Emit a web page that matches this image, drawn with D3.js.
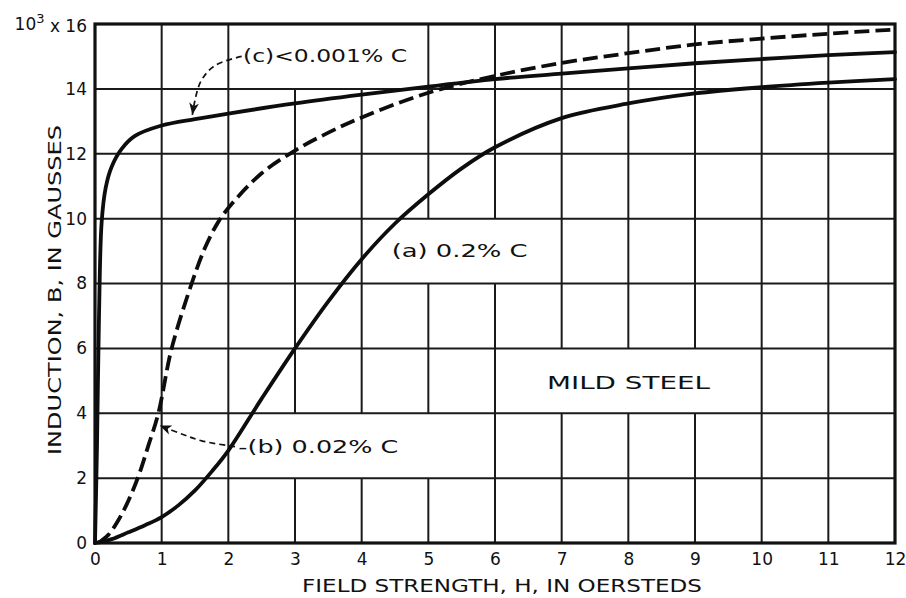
<!DOCTYPE html>
<html>
<head>
<meta charset="utf-8">
<script src="https://cdn.jsdelivr.net/npm/d3@7"></script>
<style>
  html, body { margin: 0; padding: 0; background: #fff; }
  svg { display: block; }
  text { font-family: "DejaVu Sans", "Open Sans", sans-serif; fill: #111; }
</style>
</head>
<body>
<svg id="chart" width="906" height="598"></svg>
<script>
// Magnetization curves of mild steel: induction B (kilogauss) against field strength H (oersteds)
const xTicks = [0, 1, 2, 3, 4, 5, 6, 7, 8, 9, 10, 11, 12];
const yTicks = [0, 2, 4, 6, 8, 10, 12, 14];
const yTopLabel = "16";

// (a) 0.2% C
const curveA = [
  [0, 0], [0.25, 0.12], [0.5, 0.33], [0.75, 0.55], [1, 0.8], [1.25, 1.16],
  [1.5, 1.62], [1.75, 2.2], [2, 2.85], [2.5, 4.45], [3, 6],
  [3.5, 7.45], [4, 8.75], [4.5, 9.85], [5, 10.75], [5.5, 11.55], [6, 12.2],
  [7, 13.1], [8, 13.55], [9, 13.86], [10, 14.05], [11, 14.19], [12, 14.3]
];
// (b) 0.02% C
const curveB = [
  [0.05, 0], [0.2, 0.25], [0.35, 0.7], [0.5, 1.3], [0.65, 2.05], [0.8, 3], [0.95, 4],
  [1.15, 6], [1.45, 8], [1.65, 9.1], [1.85, 9.9], [2.05, 10.45], [2.5, 11.4],
  [3, 12.1], [3.5, 12.65], [4, 13.12], [5, 13.88], [6, 14.4], [7, 14.8], [8, 15.1],
  [9, 15.37], [10, 15.55], [11, 15.7], [12, 15.83]
];
// (c) <0.001% C
const curveC = [
  [0, 0], [0.03, 3], [0.06, 7], [0.1, 9.9], [0.16, 10.95], [0.25, 11.6],
  [0.4, 12.15], [0.6, 12.55], [1, 12.87], [1.5, 13.07], [2, 13.24], [3, 13.55],
  [4, 13.82], [5, 14.07], [6, 14.3], [7, 14.47], [8, 14.63], [9, 14.79],
  [10, 14.92], [11, 15.04], [12, 15.13]
];

// Label panels (data units) where vertical rulings are left out
const panels = [
  { text: "(c)<0.001% C", x0: 2, x1: 5, y0: 14, y1: 16, tx: 2.22, ty: 15.02 },
  { text: "(a) 0.2% C",   x0: 4, x1: 7, y0: 8,  y1: 10, tx: 4.45, ty: 9.03 },
  { text: "MILD STEEL",   x0: 6, x1: 10, y0: 4, y1: 6,  tx: 6.78, ty: 4.96 },
  { text: "-(b) 0.02% C", x0: 2, x1: 6, y0: 2,  y1: 4,  tx: 2.15, ty: 2.97 }
];
const labelWidths = [164, 136, 163, 160];

// Leader lines from labels to curves (data units), last point is the arrow tip
const leaderC = [[2.2, 15.0], [1.8, 14.72], [1.58, 14.2], [1.46, 13.2]];
const leaderB = [[2.1, 2.97], [1.6, 3.15], [1.3, 3.36], [0.97, 3.62]];

const svg = d3.select("#chart");
const margin = { left: 95, top: 24, right: 11, bottom: 55 };
const W = 906 - margin.left - margin.right;
const H = 598 - margin.top - margin.bottom;

const x = d3.scaleLinear().domain([0, 12]).range([0, W]);
const y = d3.scaleLinear().domain([0, 16]).range([H, 0]);

const g = svg.append("g").attr("transform", `translate(${margin.left},${margin.top})`);

// horizontal rulings
g.append("g").selectAll("line").data(yTicks.filter(v => v > 0)).join("line")
  .attr("x1", 0).attr("x2", W)
  .attr("y1", d => y(d)).attr("y2", d => y(d))
  .attr("stroke", "#1a1a1a").attr("stroke-width", 2);

// vertical rulings, broken where a label panel sits
const vSegs = [];
xTicks.filter(v => v > 0 && v < 12).forEach(v => {
  let spans = [[0, 16]];
  panels.forEach(p => {
    if (v > p.x0 && v < p.x1) {
      spans = spans.flatMap(([a, b]) => {
        if (p.y1 <= a || p.y0 >= b) return [[a, b]];
        const out = [];
        if (p.y0 > a) out.push([a, p.y0]);
        if (p.y1 < b) out.push([p.y1, b]);
        return out;
      });
    }
  });
  spans.forEach(s => vSegs.push({ v, a: s[0], b: s[1] }));
});
g.append("g").selectAll("line").data(vSegs).join("line")
  .attr("x1", d => x(d.v)).attr("x2", d => x(d.v))
  .attr("y1", d => y(d.a)).attr("y2", d => y(d.b))
  .attr("stroke", "#1a1a1a").attr("stroke-width", 2);

// frame
g.append("rect").attr("x", 0).attr("y", 0).attr("width", W).attr("height", H)
  .attr("fill", "none").attr("stroke", "#111").attr("stroke-width", 3.2);

// axes (tick labels only)
const xAxis = d3.axisBottom(x).tickValues(xTicks).tickSize(0).tickPadding(9).tickFormat(d3.format("d"));
const gx = g.append("g").attr("transform", `translate(0,${H})`).call(xAxis);
gx.select(".domain").remove();
gx.selectAll("text").attr("font-size", 17).attr("fill", "#111")
  .style("font-family", "'DejaVu Sans', sans-serif").attr("dy", "0.75em");

const yAxis = d3.axisLeft(y).tickValues(yTicks).tickSize(0).tickPadding(8).tickFormat(d3.format("d"));
const gy = g.append("g").call(yAxis);
gy.select(".domain").remove();
gy.selectAll("text").attr("font-size", 17).attr("fill", "#111")
  .style("font-family", "'DejaVu Sans', sans-serif");

// top-of-scale multiplier label
const scaleNote = g.append("text").attr("x", -8).attr("y", y(16)).attr("dy", "0.35em")
  .attr("text-anchor", "end").attr("font-size", 17);
scaleNote.append("tspan").text("10");
scaleNote.append("tspan").text("3").attr("font-size", 13).attr("dy", "-0.55em");
scaleNote.append("tspan").text(" x " + yTopLabel).attr("dy", "0.55em");

// axis titles
svg.append("text")
  .attr("x", margin.left + W / 2 + 7).attr("y", 592)
  .attr("text-anchor", "middle").attr("font-size", 18)
  .attr("textLength", 400).attr("lengthAdjust", "spacingAndGlyphs")
  .text("FIELD STRENGTH, H, IN OERSTEDS");

svg.append("text")
  .attr("transform", `translate(61,${290}) rotate(-90)`)
  .attr("text-anchor", "middle").attr("font-size", 18)
  .attr("textLength", 330).attr("lengthAdjust", "spacingAndGlyphs")
  .text("INDUCTION, B, IN GAUSSES");

// curves
const line = d3.line().x(d => x(d[0])).y(d => y(d[1])).curve(d3.curveCatmullRom.alpha(0.5));

g.append("path").datum(curveA).attr("d", line)
  .attr("fill", "none").attr("stroke", "#0d0d0d").attr("stroke-width", 3.8)
  .attr("stroke-linejoin", "round").attr("stroke-linecap", "round");

g.append("path").datum(curveC).attr("d", line)
  .attr("fill", "none").attr("stroke", "#0d0d0d").attr("stroke-width", 3.8)
  .attr("stroke-linejoin", "round").attr("stroke-linecap", "round");

g.append("path").datum(curveB).attr("d", line)
  .attr("fill", "none").attr("stroke", "#0d0d0d").attr("stroke-width", 3.8)
  .attr("stroke-dasharray", "15 6");

// arrowhead marker
svg.append("defs").append("marker")
  .attr("id", "arrow").attr("viewBox", "0 0 12 10")
  .attr("refX", 11).attr("refY", 5)
  .attr("markerWidth", 13).attr("markerHeight", 11)
  .attr("markerUnits", "userSpaceOnUse").attr("orient", "auto")
  .append("path").attr("d", "M0,0.5 L11,5 L0,9.5 L3,5 Z")
  .attr("fill", "#111");

const leader = d3.line().x(d => x(d[0])).y(d => y(d[1])).curve(d3.curveCatmullRom.alpha(0.5));
[leaderC, leaderB].forEach(pts => {
  g.append("path").datum(pts).attr("d", leader)
    .attr("fill", "none").attr("stroke", "#111").attr("stroke-width", 1.7)
    .attr("stroke-dasharray", "6 4").attr("marker-end", "url(#arrow)");
});

// labels
g.append("g").selectAll("text").data(panels).join("text")
  .attr("x", d => x(d.tx)).attr("y", d => y(d.ty)).attr("dy", "0.36em")
  .attr("font-size", 18)
  .attr("textLength", (d, i) => labelWidths[i]).attr("lengthAdjust", "spacingAndGlyphs")
  .text(d => d.text);
</script>
</body>
</html>
